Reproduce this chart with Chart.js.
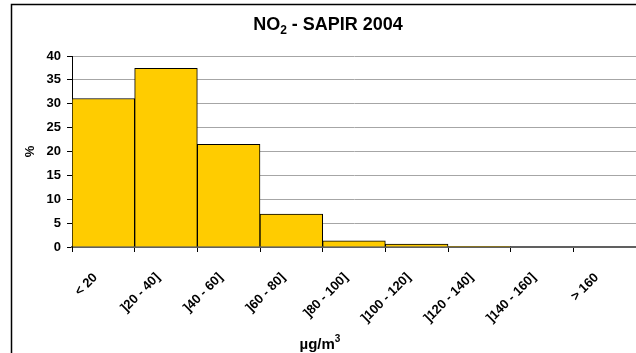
<!DOCTYPE html>
<html>
<head>
<meta charset="utf-8">
<script src="https://cdn.jsdelivr.net/npm/chart.js@4"></script>
<style>
  html, body { margin: 0; padding: 0; background: #fff; overflow: hidden; }
  #wrap { width: 636px; height: 353px; position: relative; }
</style>
</head>
<body>
<div id="wrap"><canvas id="chart" width="636" height="353"></canvas></div>
<script>
const categories = ['< 20', ']20 - 40]', ']40 - 60]', ']60 - 80]', ']80 - 100]', ']100 - 120]', ']120 - 140]', ']140 - 160]', '> 160'];
const percent = [31.1, 37.4, 21.5, 6.9, 1.3, 0.6, 0.15, 0, 0];
const yTicks = [0, 5, 10, 15, 20, 25, 30, 35, 40];

const font = 'Arial, "Liberation Sans", sans-serif';

// draws pieces of text one after another, some smaller and shifted (sub/sup)
function drawRich(ctx, parts, cx, cy) {
  let total = 0;
  parts.forEach(p => {
    ctx.font = 'bold ' + p.size + 'px ' + font;
    p.w = ctx.measureText(p.text).width;
    total += p.w;
  });
  let x = cx - total / 2;
  parts.forEach(p => {
    ctx.font = 'bold ' + p.size + 'px ' + font;
    ctx.fillText(p.text, x, cy + (p.dy || 0));
    x += p.w;
  });
}

// frame + title + x axis title
const extras = {
  id: 'extras',
  afterDraw(c) {
    const ctx = c.ctx;
    ctx.save();
    ctx.strokeStyle = '#000';
    ctx.lineWidth = 1.5;
    ctx.beginPath();
    ctx.moveTo(11.5, 353);
    ctx.lineTo(11.5, 4.5);
    ctx.lineTo(640, 4.5);
    ctx.stroke();

    ctx.fillStyle = '#000';
    ctx.textBaseline = 'alphabetic';
    drawRich(ctx, [
      { text: 'NO', size: 18 },
      { text: '2', size: 12, dy: 4 },
      { text: ' - SAPIR 2004', size: 18 }
    ], 328, 30);

    drawRich(ctx, [
      { text: 'µg/m', size: 15 },
      { text: '3', size: 10, dy: -7 }
    ], 320, 349);
    ctx.restore();
  }
};

const ctx = document.querySelector('#chart').getContext('2d');

new Chart(ctx, {
  type: 'bar',
  data: {
    labels: categories,
    datasets: [
      {
        label: '%',
        data: percent,
        backgroundColor: '#FFCC00',
        borderColor: '#000',
        borderWidth: 1,
        barPercentage: 1,
        categoryPercentage: 1
      }
    ]
  },
  options: {
    responsive: false,
    animation: false,
    layout: { padding: { left: 0, right: -2, top: 56, bottom: 0 } },
    plugins: {
      legend: { display: false },
      tooltip: { enabled: false }
    },
    scales: {
      x: {
        grid: {
          offset: true,
          drawOnChartArea: false,
          drawTicks: true,
          tickLength: 5,
          tickColor: '#000'
        },
        border: { color: '#606060', width: 2 },
        ticks: {
          color: '#000',
          font: { family: font, size: 13, weight: 'bold' },
          minRotation: 45,
          maxRotation: 45,
          autoSkip: false,
          padding: 18,
          labelOffset: -8
        },
        afterFit(s) { s.height = 353 - 247; }
      },
      y: {
        min: 0,
        max: 40,
        afterBuildTicks(s) { s.ticks = yTicks.map(v => ({ value: v })); },
        grid: {
          color: '#a6a6a6',
          tickColor: '#000',
          tickLength: 5,
          lineWidth: 1
        },
        border: { color: '#000', width: 1 },
        ticks: {
          color: '#000',
          font: { family: font, size: 13, weight: 'bold' },
          padding: 6
        },
        title: {
          display: true,
          text: '%',
          color: '#000',
          font: { family: font, size: 13, weight: 'bold' },
          padding: { top: 23, bottom: 0 }
        },
        afterFit(s) { s.width = 72; }
      }
    }
  },
  plugins: [extras]
});
</script>
</body>
</html>
